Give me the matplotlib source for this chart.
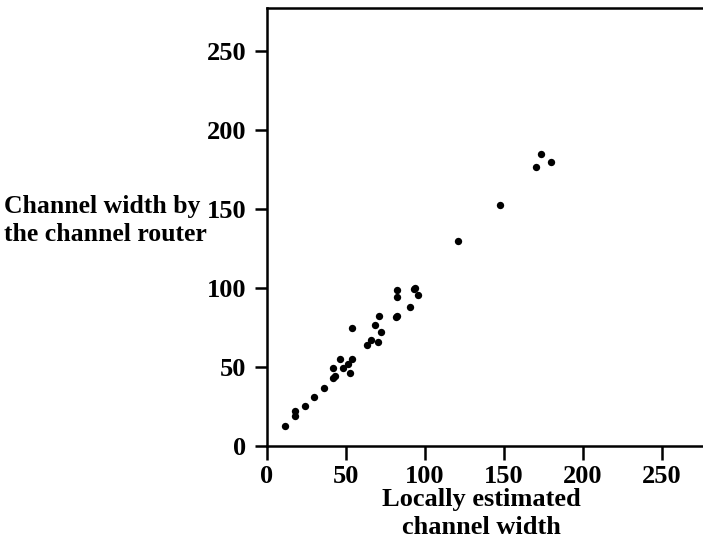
import matplotlib
matplotlib.use("Agg")
import matplotlib.pyplot as plt

# locally estimated width vs. width found by the channel router
local_width = [11.4, 17.7, 17.7, 23.9, 29.9, 36.2, 41.9, 43.3, 41.9, 46.1,
               48.4, 51.3, 52.4, 54.1, 54.1, 63.2, 66.1, 68.3, 70.3, 70.6,
               72.3, 81.4, 82.3, 82.6, 82.6, 90.5, 92.8, 94.0, 95.7, 121.0,
               147.2, 170.6, 173.7, 180.0]
router_width = [12.6, 22.1, 19.2, 25.0, 30.9, 36.9, 43.1, 44.2, 49.0, 55.0,
                49.0, 51.9, 46.4, 54.8, 74.4, 63.6, 66.9, 76.2, 65.6, 82.4,
                72.2, 81.5, 82.4, 98.7, 94.3, 87.7, 99.2, 100.0, 95.6, 129.6,
                152.4, 176.2, 184.8, 179.5]
ticks = [0, 50, 100, 150, 200, 250]

plt.rcParams['font.family'] = ['Liberation Serif', 'DejaVu Serif']
plt.rcParams['font.weight'] = 'bold'

fig = plt.figure(figsize=(7.03, 5.45), dpi=100)
ax = fig.add_axes([0.3798, 0.1817, 0.6202, 0.8037])

ax.scatter(local_width, router_width, s=28, color='black', linewidths=0)

ax.set_xlim(0, 276)
ax.set_ylim(0, 277)
ax.set_xticks(ticks)
ax.set_yticks(ticks)
ax.spines['right'].set_visible(False)
for sp in ax.spines.values():
    sp.set_linewidth(1.8)
ax.tick_params(axis='x', direction='out', length=10, width=1.8, pad=4, labelsize=19)
ax.tick_params(axis='y', direction='out', length=9, width=1.8, pad=6, labelsize=19)

fig.text(4 / 703, 1 - 195 / 545, "Channel width by\nthe channel router",
         ha='left', va='top', fontsize=18.5, linespacing=1.25)
fig.text(481 / 703, 1 - 488 / 545, "Locally estimated\nchannel width",
         ha='center', va='top', fontsize=19, linespacing=1.25)

fig.savefig("out.png", dpi=100)
